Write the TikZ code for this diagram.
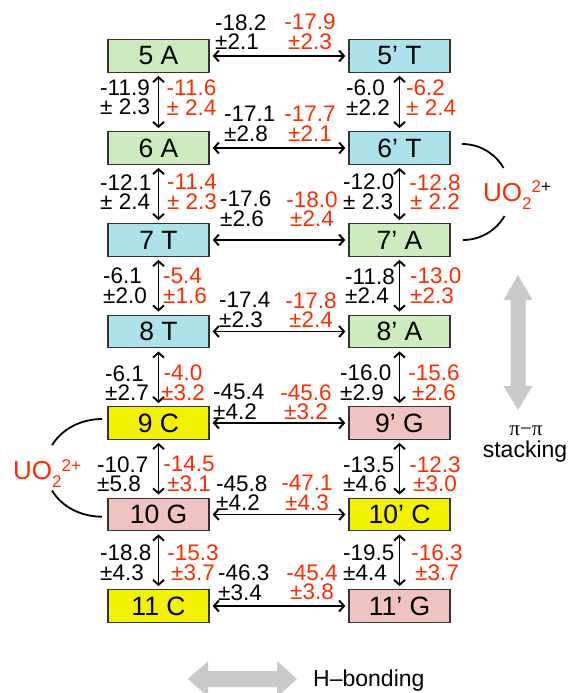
\documentclass[tikz,border=0pt]{standalone}
\usepackage{fontspec}
\setmainfont{Liberation Sans}
\newfontfamily\greekserif{Liberation Serif}
\usetikzlibrary{arrows.meta}

\definecolor{boxgreen}{HTML}{CEEBBF}
\definecolor{boxblue}{HTML}{AEE2EA}
\definecolor{boxyellow}{HTML}{F2F200}
\definecolor{boxpink}{HTML}{F0C3C3}
\definecolor{valred}{HTML}{FF2A00}
\definecolor{hintgray}{HTML}{C9C9C9}

\newcommand\numfont{\fontsize{22.5}{19.5}\selectfont}
\newcommand\basefont{\fontsize{26.5}{28}\selectfont}
% uranyl ion label; #1 is the colour of the charge sign
\newcommand\uranyl[1]{UO\raisebox{-8pt}{\fontsize{17}{17}\selectfont 2}\raisebox{8.5pt}{\fontsize{17}{17}\selectfont 2{\color{#1}+}}}

\tikzset{
  base/.style={draw=black!80, line width=1.3pt, minimum width=101pt,
    minimum height=32.5pt, inner sep=0pt, font=\basefont},
  gbase/.style={base, fill=boxgreen},
  bbase/.style={base, fill=boxblue},
  ybase/.style={base, fill=boxyellow},
  pbase/.style={base, fill=boxpink},
  num/.style={inner sep=0pt, font=\numfont},
  blk/.style={num, align=left, anchor=west},
  rd/.style={num, align=center, text=valred},
  rdl/.style={num, align=left, anchor=west, text=valred},
  link/.style={line width=1.9pt, {Straight Barb[length=5pt,width=11pt]}-{Straight Barb[length=5pt,width=11pt]},
    shorten <=3pt, shorten >=3pt},
  bracket/.style={line width=1.8pt},
}

\begin{document}
\begin{tikzpicture}[x=1pt,y=-1pt]
\useasboundingbox (0,0) rectangle (570,693);

% base boxes
\node[gbase] (n5)  at (158.5,56)  {5 A};
\node[bbase] (n5p) at (399.5,56)  {5’ T};
\node[gbase] (n6)  at (158.5,148) {6 A};
\node[bbase] (n6p) at (399.5,148) {6’ T};
\node[bbase] (n7)  at (158.5,240) {7 T};
\node[gbase] (n7p) at (399.5,240) {7’ A};
\node[bbase] (n8)  at (158.5,331.5) {8 T};
\node[gbase] (n8p) at (399.5,331.5) {8’ A};
\node[ybase] (n9)  at (158.5,423) {9 C};
\node[pbase] (n9p) at (399.5,423) {9’ G};
\node[pbase] (n10)  at (158.5,514.5) {10 G};
\node[ybase] (n10p) at (399.5,514.5) {10’ C};
\node[ybase] (n11)  at (158.5,606) {11 C};
\node[pbase] (n11p) at (399.5,606) {11’ G};

% pairing arrows
\foreach \k in {5,6,7,8,9,10,11} \draw[link] (n\k) -- (n\k p);
% stacking arrows
\foreach \a/\b in {5/6,6/7,7/8,8/9,9/10,10/11} {
  \draw[link] (n\a) -- (n\b);
  \draw[link] (n\a p) -- (n\b p);
}

% pairing energies
\node[blk] (h5k) at (215,32) {-18.2\\±2.1};
\node[rd]  (h5r) at (310,32) {-17.9\\±2.3};
\node[blk] (h6k) at (224,124) {-17.1\\±2.8};
\node[rd]  (h6r) at (310,124) {-17.7\\±2.1};
\node[blk] (h7k) at (220,209) {-17.6\\±2.6};
\node[rd]  (h7r) at (312,209) {-18.0\\±2.4};
\node[blk] (h8k) at (219,310) {-17.4\\±2.3};
\node[rd]  (h8r) at (311,310) {-17.8\\±2.4};
\node[blk] (h9k) at (213,402) {-45.4\\±4.2};
\node[rd]  (h9r) at (306,402) {-45.6\\±3.2};
\node[blk] (h10k) at (216,493) {-45.8\\±4.2};
\node[rd]  (h10r) at (307,493) {-47.1\\±4.3};
\node[blk] (h11k) at (218,582.5) {-46.3\\±3.4};
\node[rd]  (h11r) at (312,582.5) {-45.4\\±3.8};

% stacking energies, left strand
\node[blk] (v1k) at (100,97.5) {-11.9\\± 2.3};
\node[rd]  (v1r) at (191.5,97.5) {-11.6\\± 2.4};
\node[blk] (v2k) at (100,192) {-12.1\\± 2.4};
\node[rd]  (v2r) at (192,192) {-11.4\\± 2.3};
\node[blk] (v3k) at (103,286) {-6.1\\±2.0};
\node[rdl] (v3r) at (163,286) {-5.4\\±1.6};
\node[blk] (v4k) at (105,383) {-6.1\\±2.7};
\node[rd]  (v4r) at (183,383) {-4.0\\±3.2};
\node[blk] (v5k) at (97,474) {-10.7\\±5.8};
\node[rd]  (v5r) at (189,474) {-14.5\\±3.1};
\node[blk] (v6k) at (100,562.5) {-18.8\\±4.3};
\node[rd]  (v6r) at (193,562.5) {-15.3\\±3.7};

% stacking energies, right strand
\node[blk] (w1k) at (346,97.5) {-6.0\\±2.2};
\node[rdl] (w1r) at (406,97.5) {-6.2\\± 2.4};
\node[blk] (w2k) at (343,192) {-12.0\\± 2.3};
\node[rd]  (w2r) at (435,192) {-12.8\\± 2.2};
\node[blk] (w3k) at (345,286) {-11.8\\±2.4};
\node[rdl] (w3r) at (410,286) {-13.0\\±2.3};
\node[blk] (w4k) at (340,383) {-16.0\\±2.9};
\node[rd]  (w4r) at (434,383) {-15.6\\±2.6};
\node[blk] (w5k) at (343,474) {-13.5\\±4.6};
\node[rd]  (w5r) at (435,474) {-12.3\\±3.0};
\node[blk] (w6k) at (343,562.5) {-19.5\\±4.4};
\node[rd]  (w6r) at (437,562.5) {-16.3\\±3.7};

% uranyl binding sites
\draw[bracket] (462,144) arc[start angle=90, end angle=30, radius=48pt];
\draw[bracket] (504.5,216) arc[start angle=-30, end angle=-90, radius=48pt];
\node[anchor=base west, inner sep=0pt, text=valred, font=\fontsize{26}{28}\selectfont]
  (uoR) at (483,201) {\uranyl{black}};

\draw[bracket] (102,419) arc[start angle=90, end angle=153, x radius=56pt, y radius=48pt];
\draw[bracket] (52,490.5) arc[start angle=207, end angle=270, x radius=56pt, y radius=48pt];
\node[anchor=base west, inner sep=0pt, text=valred, font=\fontsize{26}{28}\selectfont]
  (uoL) at (13,479.5) {\uranyl{valred}};

% legend
\fill[hintgray] (518,275) -- (532.5,300) -- (525.5,300) -- (525.5,386) -- (532.5,386)
  -- (518,410) -- (503.5,386) -- (510.5,386) -- (510.5,300) -- (503.5,300) -- cycle;
\node[anchor=base, inner sep=0pt, font=\greekserif\fontsize{21}{22}\selectfont] (pipi) at (526,435) {π−π};
\node[anchor=base, inner sep=0pt, font=\fontsize{23}{24}\selectfont] (stk) at (525,457.5) {stacking};

\fill[hintgray] (188,679) -- (208,661) -- (208,671) -- (277,671) -- (277,661) -- (297,679)
  -- (277,697) -- (277,687) -- (208,687) -- (208,697) -- cycle;
\node[anchor=base west, inner sep=0pt, font=\fontsize{23}{24}\selectfont] (hb) at (313,686.5) {H–bonding};
\end{tikzpicture}
\end{document}
